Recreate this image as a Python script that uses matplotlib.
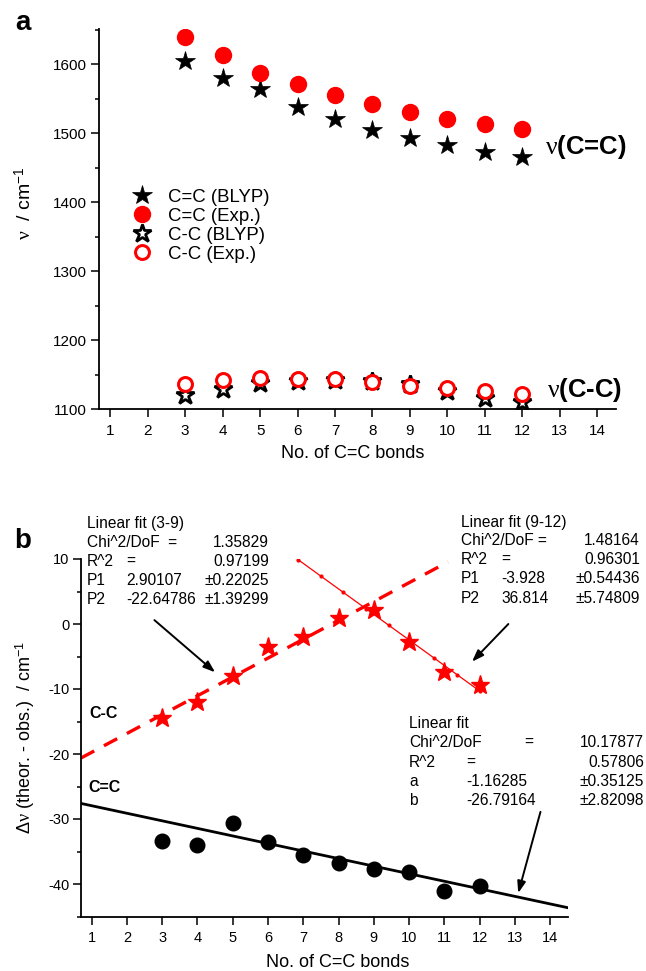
import matplotlib
matplotlib.use('Agg')
import matplotlib.pyplot as plt
import numpy as np
from matplotlib.ticker import MultipleLocator, FixedLocator
from matplotlib import font_manager

plt.rcParams['font.family'] = ['Liberation Sans', 'DejaVu Sans']
plt.rcParams['mathtext.fontset'] = 'custom'
plt.rcParams['mathtext.rm'] = 'Liberation Sans'
plt.rcParams['mathtext.it'] = 'Liberation Serif'
plt.rcParams['mathtext.bf'] = 'Liberation Sans:bold'
plt.rcParams['axes.unicode_minus'] = False

try:
    font_manager.findfont('Liberation Sans Narrow', fallback_to_default=False)
    TICK_FAMILY = 'Liberation Sans Narrow'
    TICK_A, TICK_B = 12.5, 11.5
except Exception:
    TICK_FAMILY = 'Liberation Sans'
    TICK_A, TICK_B = 11, 10.5

# ---------------- data ----------------
n_bonds = [3, 4, 5, 6, 7, 8, 9, 10, 11, 12]
x_ticks = [1, 2, 3, 4, 5, 6, 7, 8, 9, 10, 11, 12, 13, 14]

cdc_blyp = [1604.8, 1580.1, 1563.3, 1537.2, 1520.7, 1504.8, 1492.8, 1482.2, 1472.0, 1465.7]
cdc_exp = [1638.7, 1614.0, 1587.4, 1570.6, 1555.5, 1542.0, 1530.9, 1520.7, 1513.5, 1505.4]
csc_blyp = [1120.0, 1129.0, 1137.0, 1140.0, 1141.5, 1140.0, 1136.0, 1126.0, 1116.0, 1110.0]
csc_exp = [1135.7, 1142.0, 1145.4, 1143.9, 1143.9, 1139.1, 1133.8, 1129.9, 1125.5, 1121.7]

delta_csc = [-14.5, -12.0, -7.95, -3.6, -1.95, 0.97, 2.15, -2.7, -7.4, -9.4]
delta_cdc = [-33.4, -33.95, -30.6, -33.6, -35.5, -36.7, -37.7, -38.2, -41.0, -40.35]

# linear fits: slope, intercept, x-range drawn
fit_3_9 = (2.90107, -22.64786, 0.7, 11.1)
fit_9_12 = (-3.928, 36.814, 6.85, 12.0)
fit_cdc = (-1.16285, -26.79164, 0.7, 14.5)

fit1_rows = [["Linear fit (3-9)", "", "", ""],
             ["Chi^2/DoF  =", "", "", "1.35829"],
             ["R^2", "=", "", "0.97199"],
             ["P1", "2.90107", "", "\u00b10.22025"],
             ["P2", "-22.64786", "", "\u00b11.39299"]]
fit2_rows = [["Linear fit (9-12)", "", "", ""],
             ["Chi^2/DoF =", "", "", "1.48164"],
             ["R^2", "=", "", "0.96301"],
             ["P1", "-3.928", "", "\u00b10.54436"],
             ["P2", "36.814", "", "\u00b15.74809"]]
fit3_rows = [["Linear fit", "", "", ""],
             ["Chi^2/DoF", "", "=", "10.17877"],
             ["R^2", "=", "", "0.57806"],
             ["a", "-1.16285", "", "\u00b10.35125"],
             ["b", "-26.79164", "", "\u00b12.82098"]]

RED = '#ff0000'
W, H = 646, 971

fig = plt.figure(figsize=(W / 100, H / 100), dpi=100)


def fig_ax(l, t, r, b):
    return fig.add_axes([l / W, 1 - b / H, (r - l) / W, (b - t) / H])


def fp(x, y):
    return (x / W, 1 - y / H)


axA = fig_ax(99, 29, 616, 409)
axB = fig_ax(81, 559, 568, 916.5)

for ax in (axA, axB):
    for s in ('top', 'right'):
        ax.spines[s].set_visible(False)
    for s in ('left', 'bottom'):
        ax.spines[s].set_linewidth(1.3)
    ax.tick_params(which='major', direction='out', length=5.5, width=1.1)
    ax.tick_params(which='minor', direction='out', length=3.0, width=1.1)
    ax.tick_params(axis='y', pad=3)
    ax.tick_params(axis='x', pad=5)

# ---------------- panel a ----------------
axA.plot(n_bonds, cdc_blyp, ls='none', marker='*', ms=14.5, color='black', mew=0.5,
         label='C=C (BLYP)')
axA.plot(n_bonds, cdc_exp, ls='none', marker='o', ms=11.5, color=RED, mec=RED,
         label='C=C (Exp.)')
axA.plot(n_bonds, csc_blyp, ls='none', marker='*', ms=13.5, mfc='white', mec='black', mew=2.0,
         label='C-C (BLYP)')
axA.plot(n_bonds, csc_exp, ls='none', marker='o', ms=10, mfc='white', mec=RED, mew=2.2,
         label='C-C (Exp.)')

axA.set_xlim(0.7, 14.5)
axA.set_ylim(1100, 1651)
axA.xaxis.set_major_locator(FixedLocator(x_ticks))
axA.yaxis.set_major_locator(MultipleLocator(100))
axA.yaxis.set_minor_locator(MultipleLocator(50))
for lab in axA.get_xticklabels() + axA.get_yticklabels():
    lab.set_fontsize(TICK_A)
    lab.set_family(TICK_FAMILY)

axA.set_xlabel('No. of C=C bonds', fontsize=13)
axA.xaxis.set_label_coords(0.49, -0.095)
axA.set_ylabel(r'$\nu$  / cm$^{-1}$', fontsize=14)
axA.yaxis.set_label_coords(-0.124, 0.542)

axA.legend(loc='upper left', bbox_to_anchor=(0.066, 0.579), frameon=False,
           fontsize=13.4, handlelength=1.0, handletextpad=0.85, labelspacing=0.1,
           borderpad=0, borderaxespad=0, numpoints=1)

fig.text(*fp(545, 147), r'$\nu$(C=C)', fontsize=18.5, fontweight='bold', va='center', ha='left')
fig.text(*fp(547, 390), r'$\nu$(C-C)', fontsize=18.5, fontweight='bold', va='center', ha='left')
fig.text(*fp(23, 23), 'a', fontsize=20, fontweight='bold', va='center', ha='center')

# ---------------- panel b ----------------
for (k, b0, x0, x1), style in ((fit_3_9, 'dash'), (fit_9_12, 'dot'), (fit_cdc, 'solid')):
    xs = np.linspace(x0, x1, 60)
    ys = k * xs + b0
    if style == 'dash':
        axB.plot(xs, ys, color=RED, lw=2.4, ls=(0, (4.5, 3.3)), dash_capstyle='butt', zorder=2)
    elif style == 'dot':
        axB.plot(xs, ys, color=RED, lw=0.9, zorder=2)
        xd = np.linspace(x0, x1, 9)
        axB.plot(xd, k * xd + b0, ls='none', marker='o', ms=2.0, color=RED, zorder=2)
    else:
        axB.plot(xs, ys, color='black', lw=2.0, zorder=2)

axB.plot(n_bonds, delta_csc, ls='none', marker='*', ms=14, color=RED, mec=RED, zorder=3)
axB.plot(n_bonds, delta_cdc, ls='none', marker='o', ms=10.5, color='black', zorder=3)

axB.set_xlim(0.7, 14.5)
axB.set_ylim(-45, 10)
axB.xaxis.set_major_locator(FixedLocator(x_ticks))
axB.yaxis.set_major_locator(MultipleLocator(10))
axB.yaxis.set_minor_locator(MultipleLocator(5))
for lab in axB.get_xticklabels() + axB.get_yticklabels():
    lab.set_fontsize(TICK_B)
    lab.set_family(TICK_FAMILY)

axB.set_xlabel('No. of C=C bonds', fontsize=13)
axB.xaxis.set_label_coords(0.528, -0.105)
axB.set_ylabel(r'$\Delta\nu$ (theor. - obs.)  / cm$^{-1}$', fontsize=13)
axB.yaxis.set_label_coords(-0.090, 0.5)

fig.text(*fp(23, 541), 'b', fontsize=20, fontweight='bold', va='center', ha='center')
fig.text(*fp(89, 713), 'C-C', fontsize=11.5, fontweight='bold', va='center', ha='left')
fig.text(*fp(88, 788), 'C=C', fontsize=11.5, fontweight='bold', va='center', ha='left')


def draw_block(rows, x_cols, ys, x_right):
    for row, y in zip(rows, ys):
        for j, cell in enumerate(row):
            if not cell:
                continue
            if j == 3:
                fig.text(*fp(x_right, y), cell, fontsize=11.2, ha='right', va='center')
            else:
                fig.text(*fp(x_cols[j], y), cell, fontsize=11.2, ha='left', va='center')


draw_block(fit1_rows, [87, 126, 0], [523, 542, 561, 580, 599], 269)
draw_block(fit2_rows, [461, 501, 0], [522, 540.5, 559.5, 578.5, 598], 640)
draw_block(fit3_rows, [409, 466, 524], [723, 742.5, 762, 781.5, 800.5], 644)

arrow_kw = dict(arrowstyle='-|>,head_length=0.7,head_width=0.25', color='black', lw=1.4,
                shrinkA=0, shrinkB=0)
axB.annotate('', xy=(4.50, -7.43), xytext=(2.78, 0.6), arrowprops=arrow_kw)
axB.annotate('', xy=(11.78, -5.8), xytext=(12.81, 0.0), arrowprops=arrow_kw)
axB.annotate('', xy=(13.09, -41.4), xytext=(13.72, -28.9), arrowprops=arrow_kw,
             annotation_clip=False)

fig.savefig('out.png', dpi=100)
